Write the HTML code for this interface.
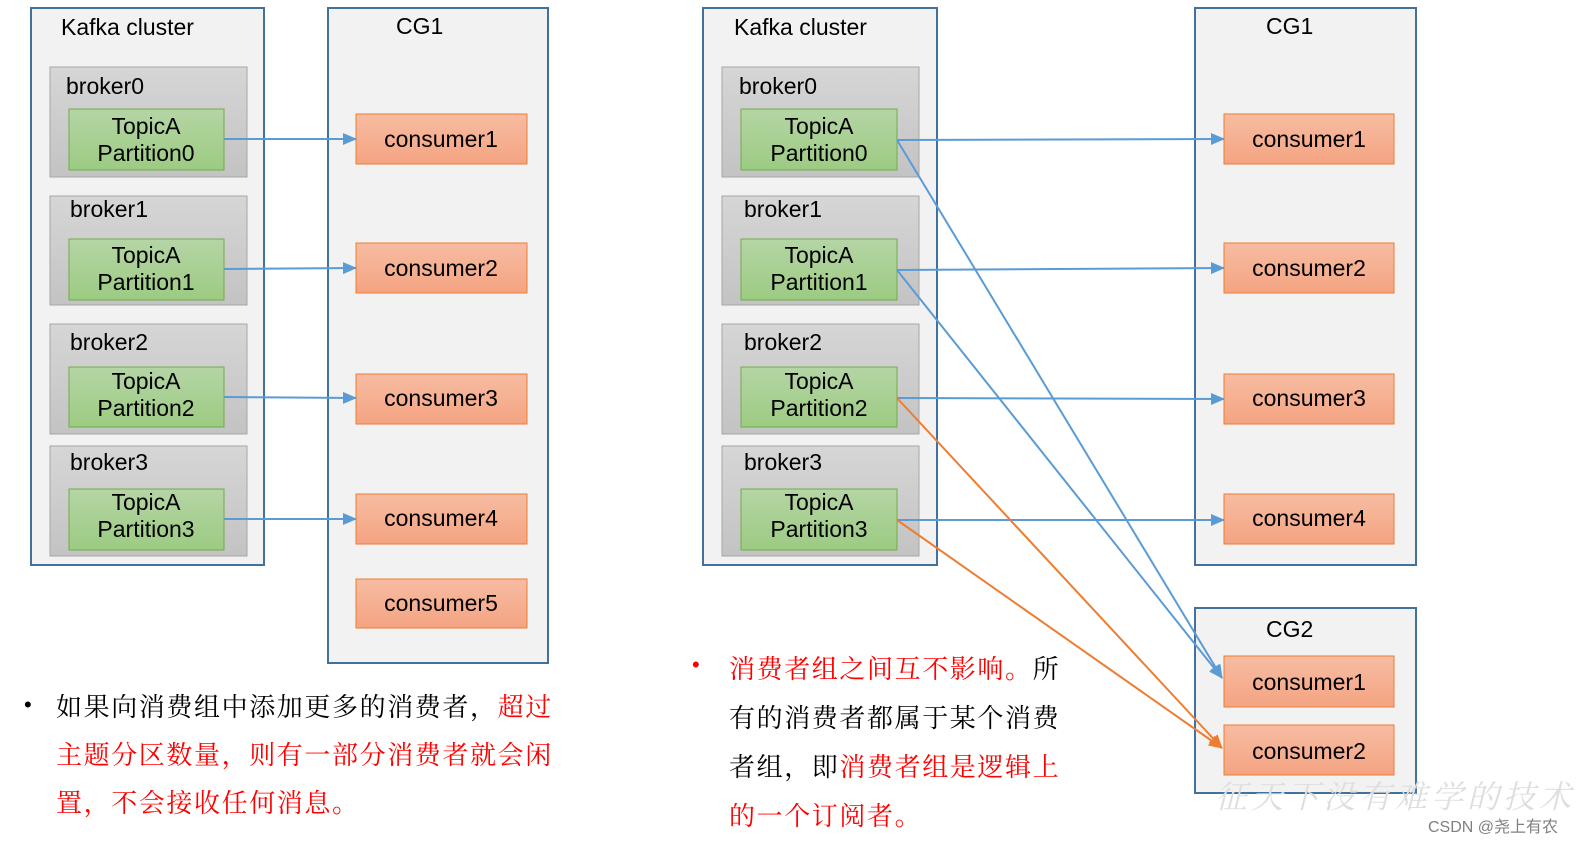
<!DOCTYPE html>
<html><head><meta charset="utf-8"><style>
html,body{margin:0;padding:0;background:#fff;}
svg{display:block;}
.l{font-family:"Liberation Sans",Arial,sans-serif;font-size:23px;fill:#000;}
.c{font-family:"Liberation Serif","Noto Serif CJK SC",serif;font-size:26px;letter-spacing:1.6px;}
</style></head><body>
<svg width="1583" height="848" viewBox="0 0 1583 848" xmlns="http://www.w3.org/2000/svg">
<defs>
<linearGradient id="g" x1="0" y1="0" x2="0" y2="1"><stop offset="0" stop-color="#b5d5a5"/><stop offset="1" stop-color="#9ccb82"/></linearGradient>
<linearGradient id="o" x1="0" y1="0" x2="0" y2="1"><stop offset="0" stop-color="#f7bca2"/><stop offset="1" stop-color="#f4a482"/></linearGradient>
<linearGradient id="b" x1="0" y1="0" x2="0" y2="1"><stop offset="0" stop-color="#d6d6d6"/><stop offset="1" stop-color="#c3c3c3"/></linearGradient>
<marker id="ab" markerWidth="14" markerHeight="14" refX="13" refY="7" orient="auto" markerUnits="userSpaceOnUse"><path d="M0,1 L14,7 L0,13 z" fill="#5b9bd5"/></marker>
<marker id="ao" markerWidth="14" markerHeight="14" refX="13" refY="7" orient="auto" markerUnits="userSpaceOnUse"><path d="M0,1 L14,7 L0,13 z" fill="#ed7d31"/></marker>
</defs>

<!-- LEFT -->
<rect x="31" y="8" width="233" height="557" fill="#f2f2f2" stroke="#41719c" stroke-width="2"/>
<text class="l" x="61" y="35">Kafka cluster</text>
<rect x="328" y="8" width="220" height="655" fill="#f2f2f2" stroke="#41719c" stroke-width="2"/>
<text class="l" x="396" y="34">CG1</text>

<g>
<rect x="50" y="67" width="197" height="110" fill="url(#b)" stroke="#a6a6a6"/>
<text class="l" x="66" y="94">broker0</text>
<rect x="69" y="109" width="155" height="61" fill="url(#g)" stroke="#70ad47"/>
<text class="l" x="146" y="134" text-anchor="middle">TopicA</text><text class="l" x="146" y="161" text-anchor="middle">Partition0</text>

<rect x="50" y="196" width="197" height="109" fill="url(#b)" stroke="#a6a6a6"/>
<text class="l" x="70" y="217">broker1</text>
<rect x="69" y="239" width="155" height="61" fill="url(#g)" stroke="#70ad47"/>
<text class="l" x="146" y="263" text-anchor="middle">TopicA</text><text class="l" x="146" y="290" text-anchor="middle">Partition1</text>

<rect x="50" y="324" width="197" height="110" fill="url(#b)" stroke="#a6a6a6"/>
<text class="l" x="70" y="350">broker2</text>
<rect x="69" y="367" width="155" height="60" fill="url(#g)" stroke="#70ad47"/>
<text class="l" x="146" y="389" text-anchor="middle">TopicA</text><text class="l" x="146" y="416" text-anchor="middle">Partition2</text>

<rect x="50" y="446" width="197" height="110" fill="url(#b)" stroke="#a6a6a6"/>
<text class="l" x="70" y="470">broker3</text>
<rect x="69" y="489" width="155" height="61" fill="url(#g)" stroke="#70ad47"/>
<text class="l" x="146" y="510" text-anchor="middle">TopicA</text><text class="l" x="146" y="537" text-anchor="middle">Partition3</text>
</g>

<g>
<rect x="356" y="114" width="171" height="50" fill="url(#o)" stroke="#ed7d31"/><text class="l" x="441" y="147" text-anchor="middle">consumer1</text>
<rect x="356" y="243" width="171" height="50" fill="url(#o)" stroke="#ed7d31"/><text class="l" x="441" y="276" text-anchor="middle">consumer2</text>
<rect x="356" y="374" width="171" height="50" fill="url(#o)" stroke="#ed7d31"/><text class="l" x="441" y="406" text-anchor="middle">consumer3</text>
<rect x="356" y="494" width="171" height="50" fill="url(#o)" stroke="#ed7d31"/><text class="l" x="441" y="526" text-anchor="middle">consumer4</text>
<rect x="356" y="579" width="171" height="49" fill="url(#o)" stroke="#ed7d31"/><text class="l" x="441" y="611" text-anchor="middle">consumer5</text>
</g>
<g stroke="#5b9bd5" stroke-width="2" fill="none">
<line x1="224" y1="139" x2="356" y2="139" marker-end="url(#ab)"/>
<line x1="224" y1="269" x2="356" y2="268" marker-end="url(#ab)"/>
<line x1="224" y1="397" x2="356" y2="398" marker-end="url(#ab)"/>
<line x1="224" y1="519" x2="356" y2="519" marker-end="url(#ab)"/>
</g>

<!-- RIGHT -->
<rect x="703" y="8" width="234" height="557" fill="#f2f2f2" stroke="#41719c" stroke-width="2"/>
<text class="l" x="734" y="35">Kafka cluster</text>
<rect x="1195" y="8" width="221" height="557" fill="#f2f2f2" stroke="#41719c" stroke-width="2"/>
<text class="l" x="1266" y="34">CG1</text>
<rect x="1195" y="608" width="221" height="185" fill="#f2f2f2" stroke="#41719c" stroke-width="2"/>
<text class="l" x="1266" y="637">CG2</text>

<g>
<rect x="722" y="67" width="197" height="110" fill="url(#b)" stroke="#a6a6a6"/>
<text class="l" x="739" y="94">broker0</text>
<rect x="741" y="109" width="156" height="61" fill="url(#g)" stroke="#70ad47"/>
<text class="l" x="819" y="134" text-anchor="middle">TopicA</text><text class="l" x="819" y="161" text-anchor="middle">Partition0</text>

<rect x="722" y="196" width="197" height="109" fill="url(#b)" stroke="#a6a6a6"/>
<text class="l" x="744" y="217">broker1</text>
<rect x="741" y="239" width="156" height="61" fill="url(#g)" stroke="#70ad47"/>
<text class="l" x="819" y="263" text-anchor="middle">TopicA</text><text class="l" x="819" y="290" text-anchor="middle">Partition1</text>

<rect x="722" y="324" width="197" height="110" fill="url(#b)" stroke="#a6a6a6"/>
<text class="l" x="744" y="350">broker2</text>
<rect x="741" y="367" width="156" height="60" fill="url(#g)" stroke="#70ad47"/>
<text class="l" x="819" y="389" text-anchor="middle">TopicA</text><text class="l" x="819" y="416" text-anchor="middle">Partition2</text>

<rect x="722" y="446" width="197" height="110" fill="url(#b)" stroke="#a6a6a6"/>
<text class="l" x="744" y="470">broker3</text>
<rect x="741" y="489" width="156" height="61" fill="url(#g)" stroke="#70ad47"/>
<text class="l" x="819" y="510" text-anchor="middle">TopicA</text><text class="l" x="819" y="537" text-anchor="middle">Partition3</text>
</g>

<g>
<rect x="1224" y="114" width="170" height="50" fill="url(#o)" stroke="#ed7d31"/><text class="l" x="1309" y="147" text-anchor="middle">consumer1</text>
<rect x="1224" y="243" width="170" height="50" fill="url(#o)" stroke="#ed7d31"/><text class="l" x="1309" y="276" text-anchor="middle">consumer2</text>
<rect x="1224" y="374" width="170" height="50" fill="url(#o)" stroke="#ed7d31"/><text class="l" x="1309" y="406" text-anchor="middle">consumer3</text>
<rect x="1224" y="494" width="170" height="50" fill="url(#o)" stroke="#ed7d31"/><text class="l" x="1309" y="526" text-anchor="middle">consumer4</text>
<rect x="1224" y="656" width="170" height="51" fill="url(#o)" stroke="#ed7d31"/><text class="l" x="1309" y="690" text-anchor="middle">consumer1</text>
<rect x="1224" y="725" width="170" height="50" fill="url(#o)" stroke="#ed7d31"/><text class="l" x="1309" y="759" text-anchor="middle">consumer2</text>
</g>
<g stroke="#5b9bd5" stroke-width="2" fill="none">
<line x1="897" y1="140" x2="1224" y2="139" marker-end="url(#ab)"/>
<line x1="897" y1="270" x2="1224" y2="268" marker-end="url(#ab)"/>
<line x1="897" y1="398" x2="1224" y2="399" marker-end="url(#ab)"/>
<line x1="897" y1="520" x2="1224" y2="520" marker-end="url(#ab)"/>
<line x1="897" y1="140" x2="1222" y2="678" marker-end="url(#ab)"/>
<line x1="897" y1="270" x2="1222" y2="678" marker-end="url(#ab)"/>
</g>
<g stroke="#ed7d31" stroke-width="2" fill="none">
<line x1="897" y1="398" x2="1222" y2="748" marker-end="url(#ao)"/>
<line x1="897" y1="520" x2="1222" y2="748" marker-end="url(#ao)"/>
</g>

<!-- watermark -->
<text x="1215" y="808" font-family="'Noto Serif CJK SC',serif" font-size="32" fill="#dedede" font-style="italic" letter-spacing="4">征天下没有难学的技术</text>
<text x="1428" y="832" font-family="'Liberation Sans','Noto Sans CJK SC',sans-serif" font-size="16" fill="#808080">CSDN @尧上有农</text>

<!-- text -->
<text x="24" y="712" font-family="'Liberation Sans',sans-serif" font-size="22">•</text>
<text class="c" x="56" y="716"><tspan fill="#000">如果向消费组中添加更多的消费者，</tspan><tspan fill="#ff0000">超过</tspan></text>
<text class="c" x="56" y="764" fill="#ff0000">主题分区数量，则有一部分消费者就会闲</text>
<text class="c" x="56" y="812" fill="#ff0000">置，不会接收任何消息。</text>

<text x="692" y="672" font-family="'Liberation Sans',sans-serif" font-size="22" fill="#ff0000">•</text>
<text class="c" x="729" y="678"><tspan fill="#ff0000">消费者组之间互不影响。</tspan><tspan fill="#000">所</tspan></text>
<text class="c" x="729" y="727" fill="#000">有的消费者都属于某个消费</text>
<text class="c" x="729" y="776"><tspan fill="#000">者组，即</tspan><tspan fill="#ff0000">消费者组是逻辑上</tspan></text>
<text class="c" x="729" y="825" fill="#ff0000">的一个订阅者。</text>
</svg>
</body></html>
